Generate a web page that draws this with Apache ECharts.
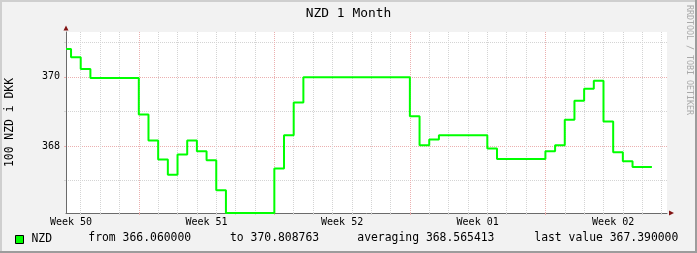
<!DOCTYPE html>
<html>
<head>
<meta charset="utf-8">
<script src="https://cdn.jsdelivr.net/npm/echarts@6/dist/echarts.min.js"></script>
<style>
html,body{margin:0;padding:0;background:#f2f2f2;}
#chart{width:697px;height:253px;}
</style>
</head>
<body>
<div id="chart"></div>
<script>
// ---- data (x in days relative to Monday 00:00 of week 51) ----
const chartTitle = 'NZD 1 Month';
const seriesName = 'NZD';
const yAxisName = '100 NZD i DKK';
const weekLabels = ['Week 50', 'Week 51', 'Week 52', 'Week 01', 'Week 02'];
const weekLabelDays = [-3.5, 3.5, 10.5, 17.5, 24.5];
const weekStartDays = [0, 7, 14, 21];
const dayGridDays = [-3, -2, -1, 1, 2, 3, 4, 5, 6, 8, 9, 10, 11, 12, 13, 15, 16, 17, 18, 19, 20, 22, 23, 24, 25, 26, 27];
const yMajorTicks = [368, 370];
const yMinorTicks = [367, 369, 371];
// 12-hour step values, first step begins at day -4
const firstStepStart = -4;
const stepDays = 0.5;
const nzdValues = [
  370.81, 370.57, 370.23,
  369.97, 369.97, 369.97, 369.97, 369.97,
  368.91, 368.16, 367.61, 367.17, 367.75, 368.16, 367.85, 367.59, 366.72,
  366.06, 366.06, 366.06, 366.06, 366.06,
  367.35, 368.31, 369.26,
  369.99, 369.99, 369.99, 369.99, 369.99, 369.99, 369.99, 369.99, 369.99, 369.99, 369.99,
  368.86, 368.02, 368.19,
  368.31, 368.31, 368.31, 368.31, 368.31,
  367.93,
  367.62, 367.62, 367.62, 367.62, 367.62,
  367.85, 368.02, 368.76, 369.31, 369.66, 369.89, 368.71, 367.82, 367.56, 367.39, 367.39
];
const statLabels = ['from', 'to', 'averaging', 'last value'];
const statValues = [366.060000, 370.808763, 368.565413, 367.390000];
const watermark = 'RRDTOOL / TOBI OETIKER';

// ---- build ----
const X_MIN = -3.76, X_MAX = 27.28;
const Y_MIN = 366.06, Y_MAX = 371.30;
const FONT = 'DejaVu Sans Mono';
const GRID_GRAY = '#d4d4d4';
const GRID_RED = '#ebb0b0';

const seriesData = nzdValues.map((v, k) => [Math.max(X_MIN, firstStepStart + k * stepDays), v]);
seriesData.push([firstStepStart + nzdValues.length * stepDays, nzdValues[nzdValues.length - 1]]);

function weekLabelFor(v) {
  for (let i = 0; i < weekLabelDays.length; i++) {
    if (Math.abs(weekLabelDays[i] - v) < 1e-6) return weekLabels[i];
  }
  return '';
}

const statX = [88.3, 230, 357.3, 534.3];
const graphics = [
  { type: 'rect', shape: { x: 0, y: 0, width: 697, height: 2 }, style: { fill: '#cfcfcf' }, silent: true },
  { type: 'rect', shape: { x: 0, y: 0, width: 2, height: 253 }, style: { fill: '#cfcfcf' }, silent: true },
  { type: 'rect', shape: { x: 695, y: 0, width: 2, height: 253 }, style: { fill: '#9c9c9c' }, silent: true },
  { type: 'rect', shape: { x: 0, y: 251, width: 697, height: 2 }, style: { fill: '#9c9c9c' }, silent: true },
  { type: 'text', x: 688.7, y: 5, rotation: -Math.PI / 2,
    style: { text: watermark, font: '8.3px "DejaVu Sans Mono"', fill: '#a9a9a9', align: 'left', verticalAlign: 'middle' } }
];
statLabels.forEach((lab, i) => {
  graphics.push({ type: 'text', x: statX[i], y: 238.3,
    style: { text: lab + ' ' + statValues[i].toFixed(6), font: '11.4px "DejaVu Sans Mono"', fill: '#000', align: 'left', verticalAlign: 'middle' } });
});

const chart = echarts.init(document.getElementById('chart'), null, { renderer: 'canvas' });
chart.setOption({
  backgroundColor: '#f2f2f2',
  animation: false,
  title: {
    text: chartTitle, left: 'center', top: 7, padding: 0,
    textStyle: { fontFamily: FONT, fontSize: 12.9, fontWeight: 'normal', color: '#000' }
  },
  legend: {
    show: true, left: 15, top: 234, padding: 0, icon: 'rect', itemWidth: 8, itemHeight: 8,
    itemStyle: { borderColor: '#000', borderWidth: 1 },
    textStyle: { fontFamily: FONT, fontSize: 11.4, color: '#000', padding: [0, 0, 0, 3] },
    data: [seriesName]
  },
  grid: {
    left: 66, right: 30, top: 32, bottom: 40, show: true, backgroundColor: '#ffffff', borderWidth: 0,
    containLabel: false, outerBoundsMode: 'none'
  },
  xAxis: [{
    type: 'value', min: X_MIN, max: X_MAX, position: 'bottom',
    axisLine: { show: true, onZero: false, lineStyle: { color: '#6b6b6b', width: 1 } },
    axisTick: { show: true, customValues: dayGridDays, length: 2, lineStyle: { color: GRID_GRAY } },
    splitLine: { show: true, lineStyle: { color: GRID_GRAY, type: [1, 1], width: 1 } },
    axisLabel: { show: true, customValues: weekLabelDays, formatter: weekLabelFor,
      fontFamily: FONT, fontSize: 10, color: '#000', margin: 4 }
  }, {
    type: 'value', min: X_MIN, max: X_MAX, position: 'bottom', offset: 0,
    axisLine: { show: true, onZero: false, symbol: ['none', 'triangle'], symbolSize: [5, 5], symbolOffset: [0, 4.5],
      lineStyle: { color: '#821414', width: 0 } },
    axisTick: { show: true, customValues: weekStartDays, length: 2, lineStyle: { color: GRID_RED } },
    splitLine: { show: true, lineStyle: { color: GRID_RED, type: [1, 1], width: 1 } },
    axisLabel: { show: false }
  }],
  yAxis: [{
    type: 'value', min: Y_MIN, max: Y_MAX, position: 'left',
    name: yAxisName, nameLocation: 'middle', nameRotate: 90, nameGap: 50,
    nameTextStyle: { fontFamily: FONT, fontSize: 11.4, color: '#000' },
    axisLine: { show: true, onZero: false, lineStyle: { color: '#6b6b6b', width: 1 } },
    axisTick: { show: true, customValues: yMinorTicks, length: 2, lineStyle: { color: GRID_GRAY } },
    splitLine: { show: true, lineStyle: { color: GRID_GRAY, type: [1, 1], width: 1 } },
    axisLabel: { show: true, customValues: yMajorTicks, fontFamily: FONT, fontSize: 10, color: '#000', margin: 6 }
  }, {
    type: 'value', min: Y_MIN, max: Y_MAX, position: 'left', offset: 0,
    axisLine: { show: true, onZero: false, symbol: ['none', 'triangle'], symbolSize: [5, 5], symbolOffset: [0, 4],
      lineStyle: { color: '#821414', width: 0 } },
    axisTick: { show: true, customValues: yMajorTicks, length: 2, lineStyle: { color: GRID_RED } },
    splitLine: { show: true, lineStyle: { color: GRID_RED, type: [1, 1], width: 1 } },
    axisLabel: { show: false }
  }],
  series: [{
    type: 'line', name: seriesName, xAxisIndex: 0, yAxisIndex: 0,
    data: seriesData, step: 'end', symbol: 'none', showSymbol: false,
    lineStyle: { color: '#00ff00', width: 2 }, itemStyle: { color: '#00ff00' },
    clip: true, z: 2
  }],
  graphic: graphics
});
</script>
</body>
</html>
